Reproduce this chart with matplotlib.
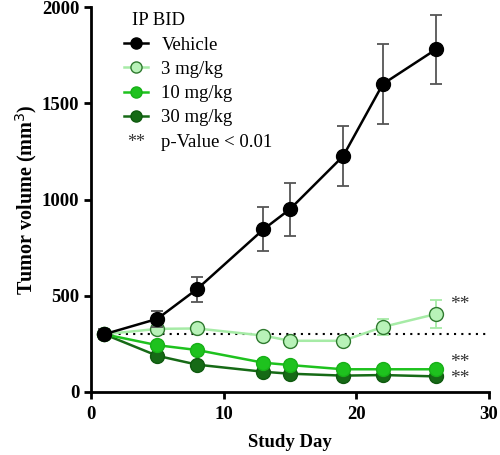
import matplotlib
matplotlib.use("Agg")
import matplotlib.pyplot as plt
from matplotlib.legend_handler import HandlerBase
from matplotlib.text import Text

plt.rcParams['font.family'] = ['Liberation Serif', 'DejaVu Serif']

days = [1, 5, 8, 13, 15, 19, 22, 26]
vehicle = [300, 380, 535, 845, 950, 1225, 1600, 1780]
vehicle_err = [25, 40, 65, 115, 137, 155, 207, 180]
mg3 = [300, 328, 330, 293, 266, 266, 338, 405]
mg3_err = [20, 15, 15, 15, 15, 15, 40, 75]
mg10 = [300, 243, 218, 152, 140, 118, 118, 118]
mg10_err = [20, 10, 10, 10, 10, 10, 10, 10]
mg30 = [300, 188, 142, 105, 95, 85, 88, 81]
mg30_err = [20, 10, 10, 8, 8, 8, 8, 8]
baseline = 300
sig_labels = ['**', '**', '**']
sig_y = [452, 152, 72]

fig = plt.figure(figsize=(5, 4.55), dpi=100)
ax = fig.add_axes([0.182, 0.1385, 0.796, 0.846])

ax.plot([1, 30], [baseline, baseline], linestyle=(0, (1, 2.5)), color='black', lw=1.5, zorder=1)

series = [
    (mg30, mg30_err, '#166a16', '#0f5a0f', '#166a16', '#166a16', '30 mg/kg'),
    (mg10, mg10_err, '#1ec21e', '#18b018', '#1ec21e', '#1ec21e', '10 mg/kg'),
    (mg3, mg3_err, '#a6eba6', '#2f7a2f', '#b8f2b8', '#a6eba6', '3 mg/kg'),
    (vehicle, vehicle_err, 'black', 'black', 'black', '#555555', 'Vehicle'),
]
handles = {}
for i, (vals, err, lc, mec, mfc, ec, lab) in enumerate(series):
    ax.errorbar(days, vals, yerr=err, fmt='none', ecolor=ec, elinewidth=1.3,
                capsize=4.5, capthick=1.3, zorder=2 + i)
    h, = ax.plot(days, vals, '-o', color=lc, lw=1.8, markersize=10,
                 markerfacecolor=mfc, markeredgecolor=mec, markeredgewidth=1.0,
                 zorder=3 + i, label=lab)
    handles[lab] = h

for lab, yv in zip(sig_labels, sig_y):
    ax.text(27.1, yv, lab, fontsize=14, color='#333333', va='center', ha='left')

ax.set_xlim(0, 30)
ax.set_ylim(0, 2000)
ax.set_xticks([0, 10, 20, 30])
ax.set_yticks([0, 500, 1000, 1500, 2000])
for s in ['top', 'right']:
    ax.spines[s].set_visible(False)
for s in ['left', 'bottom']:
    ax.spines[s].set_linewidth(2)
ax.tick_params(width=2, length=5, labelsize=13.5)
ax.tick_params(axis='x', pad=5)
for lbl in ax.get_xticklabels() + ax.get_yticklabels():
    lbl.set_fontweight('bold')
ax.set_xlabel('Study Day', fontsize=13.5, fontweight='bold', labelpad=8)
ax.set_ylabel('Tumor volume (mm$^3$)', fontsize=14.5, fontweight='bold', labelpad=2)


class TextHandler(HandlerBase):
    def create_artists(self, legend, orig_handle, xdescent, ydescent, width, height, fontsize, trans):
        t = Text(width / 2 - xdescent, height / 2 - ydescent - 2, '**', fontsize=13,
                 color='#333333', ha='center', va='center', transform=trans)
        return [t]


sig_handle = object()
order = ['Vehicle', '3 mg/kg', '10 mg/kg', '30 mg/kg']
leg = ax.legend([handles[k] for k in order] + [sig_handle],
                order + ['p-Value < 0.01'],
                handler_map={object: TextHandler()},
                title='IP BID', loc='upper left', bbox_to_anchor=(0.04, 1.03),
                frameon=False, fontsize=13.5, title_fontsize=13.5,
                handlelength=1.3, handletextpad=0.7, labelspacing=0.38,
                alignment='left', markerscale=0.8)
leg.get_title().set_position((8, 0))

fig.savefig('out.png', dpi=100)
